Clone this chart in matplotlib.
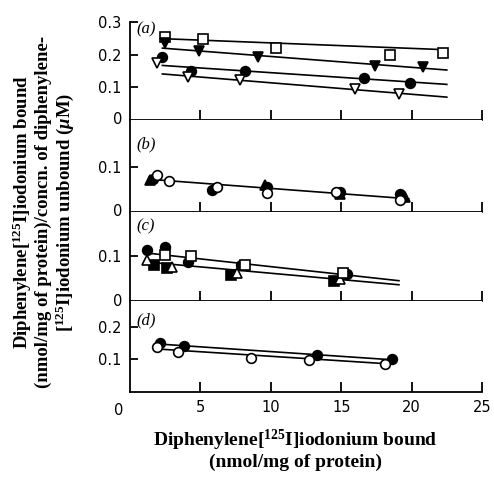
import matplotlib.pyplot as plt

plt.rcParams["mathtext.fontset"] = "custom"
plt.rcParams["mathtext.rm"] = "Liberation Serif:bold"
plt.rcParams["mathtext.bf"] = "Liberation Serif:bold"
plt.rcParams["mathtext.it"] = "Liberation Serif:italic:bold"

# ---- panel (a) ----
a_sq_x = [2.5, 5.2, 10.4, 18.5, 22.2]
a_sq_y = [0.255, 0.247, 0.220, 0.200, 0.204]
a_vt_x = [2.5, 4.9, 9.1, 17.4, 20.8]
a_vt_y = [0.235, 0.210, 0.192, 0.166, 0.163]
a_ci_x = [2.3, 4.3, 8.2, 16.6, 19.9]
a_ci_y = [0.192, 0.151, 0.150, 0.128, 0.112]
a_ov_x = [1.9, 4.1, 7.8, 16.0, 19.1]
a_ov_y = [0.176, 0.133, 0.123, 0.094, 0.079]
a_fit_x = [2.3, 22.5]
a_fit_y = [[0.249, 0.215], [0.220, 0.153], [0.167, 0.109], [0.141, 0.070]]

# ---- panel (b) ----
b_ci_x = [1.6, 5.8, 9.7, 14.9, 19.2]
b_ci_y = [0.073, 0.049, 0.056, 0.044, 0.040]
b_tr_x = [1.4, 9.6, 14.9, 19.5]
b_tr_y = [0.072, 0.060, 0.040, 0.034]
b_oc_x = [1.9, 2.8, 6.2, 9.7, 14.6, 19.2]
b_oc_y = [0.083, 0.070, 0.056, 0.041, 0.045, 0.026]
b_fit_x = [1.3, 19.8]
b_fit_y = [[0.073, 0.029]]

# ---- panel (c) ----
c_ci_x = [1.2, 2.5, 4.1, 7.9, 15.4]
c_ci_y = [0.113, 0.119, 0.087, 0.080, 0.059]
c_osq_x = [2.5, 4.3, 8.2, 15.1]
c_osq_y = [0.102, 0.100, 0.080, 0.061]
c_fsq_x = [1.7, 2.65, 7.15, 14.5]
c_fsq_y = [0.080, 0.073, 0.058, 0.044]
c_otr_x = [1.2, 3.0, 7.6, 14.9]
c_otr_y = [0.091, 0.076, 0.061, 0.048]
c_fit_x = [1.3, 19.1]
c_fit_y = [[0.106, 0.045], [0.086, 0.036]]

# ---- panel (d) ----
d_ci_x = [2.1, 3.8, 13.3, 18.6]
d_ci_y = [0.150, 0.142, 0.114, 0.102]
d_oc_x = [1.9, 3.4, 8.6, 12.7, 18.1]
d_oc_y = [0.138, 0.124, 0.104, 0.098, 0.085]
d_fit_x = [[2.1, 18.8], [1.9, 18.7]]
d_fit_y = [[0.147, 0.098], [0.132, 0.085]]

xticks = [5, 10, 15, 20, 25]

ylabel_lines = ["Diphenylene[$^{125}$I]iodonium bound",
                "(nmol/mg of protein)/concn. of diphenylene-",
                "[$^{125}$I]iodonium unbound ($\\mathit{\\mu}$M)"]
xlabel_lines = ["Diphenylene[$^{125}$I]iodonium bound",
                "(nmol/mg of protein)"]

W, H = 494, 478
fig = plt.figure(figsize=(W / 100, H / 100), dpi=100)

left = 130 / W
width = (482 - 130) / W
# pixel rows (top, bottom) of each panel
rows = [(22, 120), (120, 211.7), (211.7, 301), (301, 391.7)]
ylims = [(0, 0.3), (0, 0.206), (0, 0.198), (0, 0.28)]
yticks = [[0.1, 0.2, 0.3], [0.1], [0.1], [0.1, 0.2]]
ylabs = [["0.1", "0.2", "0.3"], ["0.1"], ["0.1"], ["0.1", "0.2"]]
tags = ["(a)", "(b)", "(c)", "(d)"]
tag_y = [0.92, 0.73, 0.84, 0.79]

tick_font = dict(family="DejaVu Sans", size=10.5)

axes = []
for i, (t, b) in enumerate(rows):
    ax = fig.add_axes([left, 1 - b / H, width, (b - t) / H])
    ax.set_xlim(0, 25)
    ax.set_ylim(*ylims[i])
    for s in ["top", "right"]:
        ax.spines[s].set_visible(False)
    ax.spines["left"].set_linewidth(1.3)
    ax.spines["bottom"].set_linewidth(1.3)
    ax.set_xticks(xticks)
    ax.tick_params(axis="x", direction="in", length=7, width=1.3)
    ax.set_yticks(yticks[i])
    ax.set_yticklabels(ylabs[i], fontdict=tick_font)
    ax.tick_params(axis="y", direction="in", length=6, width=1.3, pad=6)
    if i < 3:
        ax.set_xticklabels([])
        ax.text(-0.55, 0, "0", ha="right", va="center", fontdict=tick_font)
    else:
        ax.set_xticklabels([str(v) for v in xticks], fontdict=tick_font)
        ax.tick_params(axis="x", pad=6)
        ax.text(-0.5, -0.035, "0", ha="right", va="top", fontdict=tick_font)
    ax.text(0.45, tag_y[i], tags[i], ha="left", va="center",
            transform=ax.get_xaxis_transform(),
            family="Liberation Serif", style="italic", size=12)
    axes.append(ax)

lw = 1.2
ms = 7
mew = 1.2
open_kw = dict(mfc="white", mec="black", mew=mew, ms=ms, ls="none", zorder=3)
fill_kw = dict(mfc="black", mec="black", mew=mew, ms=ms, ls="none", zorder=3)

ax = axes[0]
for fy in a_fit_y:
    ax.plot(a_fit_x, fy, color="black", lw=lw)
ax.plot(a_sq_x, a_sq_y, marker="s", **open_kw)
ax.plot(a_vt_x, a_vt_y, marker="v", **fill_kw)
ax.plot(a_ci_x, a_ci_y, marker="o", **fill_kw)
ax.plot(a_ov_x, a_ov_y, marker="v", **open_kw)

ax = axes[1]
for fy in b_fit_y:
    ax.plot(b_fit_x, fy, color="black", lw=lw)
ax.plot(b_ci_x, b_ci_y, marker="o", **fill_kw)
ax.plot(b_tr_x, b_tr_y, marker="^", **fill_kw)
ax.plot(b_oc_x, b_oc_y, marker="o", **open_kw)

ax = axes[2]
for fy in c_fit_y:
    ax.plot(c_fit_x, fy, color="black", lw=lw)
ax.plot(c_ci_x, c_ci_y, marker="o", **fill_kw)
ax.plot(c_fsq_x, c_fsq_y, marker="s", **fill_kw)
ax.plot(c_otr_x, c_otr_y, marker="^", **open_kw)
ax.plot(c_osq_x, c_osq_y, marker="s", **open_kw)

ax = axes[3]
for fx, fy in zip(d_fit_x, d_fit_y):
    ax.plot(fx, fy, color="black", lw=lw)
ax.plot(d_ci_x, d_ci_y, marker="o", **fill_kw)
ax.plot(d_oc_x, d_oc_y, marker="o", **open_kw)

label_font = dict(family="Liberation Serif", weight="bold", size=14)
for line, py in zip(xlabel_lines, [446, 467]):
    fig.text(295 / W, 1 - py / H, line, ha="center", va="baseline",
             **label_font)
ylab_font = dict(label_font, size=13.5)
for line, px in zip(ylabel_lines, [28, 48, 70]):
    fig.text(px / W, 1 - 212 / H, line, ha="center", va="baseline",
             rotation=90, rotation_mode="anchor", **ylab_font)

fig.savefig("out.png", dpi=100)
